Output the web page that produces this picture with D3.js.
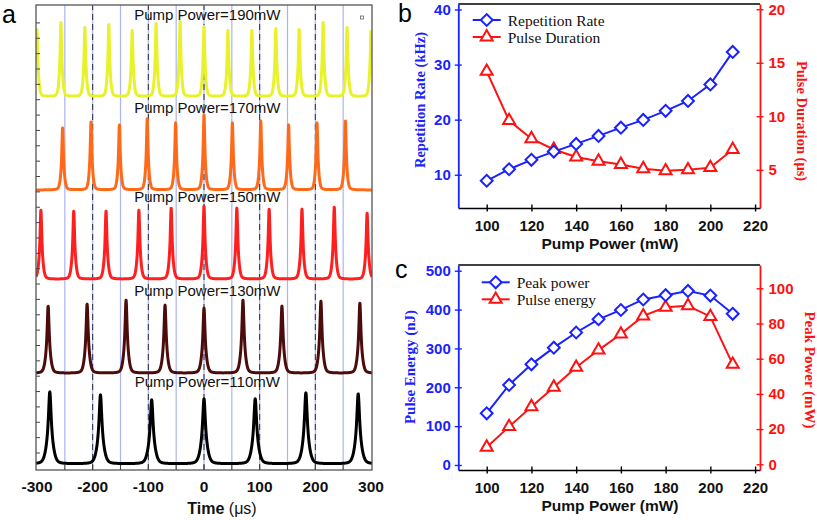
<!DOCTYPE html>
<html><head><meta charset="utf-8">
<script src="https://cdn.jsdelivr.net/npm/d3@7"></script>
<style>body{margin:0;background:#fff} svg{display:block}</style>
</head><body>
<svg id="chart" width="817" height="520"></svg>
<script>
// ---------- Panel a data (oscilloscope traces) ----------
const traceLabels = ["Pump Power=190mW","Pump Power=170mW","Pump Power=150mW","Pump Power=130mW","Pump Power=110mW"];
const tracePowers = [190,170,150,130,110];
const traceColors = ["#e8f22a","#ff6a1a","#ff1f1f","#4c0c0c","#000000"];
const traceBaselines = [373.3, 280, 190.7, 96.7, 6];   // offset of each trace (a.u.)
const peaks190 = [-300,-257,-214,-171,-129,-86,-43,0,43,86,129,171,214,257,300];
const amps190  = [67,74,69,72,66,73,75,70,66,66,68,67,74,69,65];
const peaks170 = [-254,-203,-152,-102,-51,0,51,102,152,203,254];
const amps170  = [62,68,65,71,67,75,67,69,65,67,69];
const peaks150 = [-293,-234,-176,-117,-59,0,59,117,176,234,293];
const amps150  = [69,68,68,69,71,73,71,70,70,72,66];
const peaks130 = [-280,-210,-140,-70,0,70,140,210,280];
const amps130  = [67,69,73,68,65,73,67,72,70];
const peaks110 = [-277,-186,-94,0,92,183,277];
const amps110  = [72,69,64,65,65,71,70];
const timeTicks = [-300,-200,-100,0,100,200,300];

// ---------- Panel b / c data ----------
const pumpPower = [100,110,120,130,140,150,160,170,180,190,200,210];
const repRate   = [8.9,11.0,12.7,14.2,15.6,17.05,18.55,19.95,21.6,23.4,26.4,32.3];
const pulseDur  = [14.2,9.6,7.9,6.9,6.2,5.8,5.5,5.1,4.9,5.0,5.2,6.9];
const cBlue     = [133,206,259,302,341,375,399,426,437,448,436,389];   // left axis (nJ)
const cRed      = [9.7,21.4,32.7,43.8,55.1,64.9,74.0,84.3,89.2,90.1,83.9,56.8]; // right axis (mW)
const pumpTicks = [100,120,140,160,180,200,220];
const bLeftTicks = [10,20,30,40];
const bRightTicks = [5,10,15,20];
const cLeftTicks = [0,100,200,300,400,500];
const cRightTicks = [0,20,40,60,80,100];

const BLUE = "#1a22ff", RED = "#ff1111";
const SANS = "'Liberation Sans', Arial, sans-serif";
const SERIF = "'Liberation Serif', 'Times New Roman', serif";

const svg = d3.select("#chart");

// =================== Panel a ===================
const xA = d3.scaleLinear().domain([-301.8, 301.8]).range([36, 372]);
const yA = d3.scaleLinear().domain([0, 465]).range([470, 5]);
const gA = svg.append("g");
gA.append("clipPath").attr("id","clipA").append("rect")
  .attr("x", xA.range()[0]).attr("y", yA.range()[1])
  .attr("width", xA.range()[1]-xA.range()[0]).attr("height", yA.range()[0]-yA.range()[1]);

// light blue grid every 50
gA.selectAll("line.gb").data(d3.range(-250, 251, 50)).join("line")
  .attr("x1", d=>xA(d)).attr("x2", d=>xA(d)).attr("y1", yA.range()[0]).attr("y2", yA.range()[1])
  .attr("stroke", "#aab4f2").attr("stroke-width", 1.2);
// dashed lines every 100
gA.selectAll("line.gd").data([-200,-100,0,100,200]).join("line")
  .attr("x1", d=>xA(d)).attr("x2", d=>xA(d)).attr("y1", yA.range()[0]).attr("y2", yA.range()[1])
  .attr("stroke", "#2c2c3c").attr("stroke-width", 1).attr("stroke-dasharray", "6,4");

const peakSets = [[peaks190,amps190],[peaks170,amps170],[peaks150,amps150],[peaks130,amps130],[peaks110,amps110]];
const tSamples = d3.range(-301.8, 301.9, 0.12);
const lineA = d3.line().x(d=>xA(d[0])).y(d=>yA(d[1]));
const gTr = gA.append("g").attr("clip-path","url(#clipA)");
peakSets.forEach(([pk, am], i) => {
  const dur = pulseDur[pumpPower.indexOf(tracePowers[i])];
  const hw = dur * 0.3;
  const pts = tSamples.map(t => {
    let v = traceBaselines[i];
    pk.forEach((p, k) => { const u = (t - p) / hw; v += am[k] * (0.75 / (1 + u*u) + 0.25 * Math.exp(-u*u/8)); });
    return [t, v];
  });
  gTr.append("path").attr("d", lineA(pts)).attr("fill","none")
    .attr("stroke", traceColors[i]).attr("stroke-width", 3).attr("stroke-linejoin","round");
});
// trace labels
gA.selectAll("text.tl").data(traceLabels).join("text")
  .attr("x", xA(6)).attr("y", (d,i)=>yA(traceBaselines[i]) - 77)
  .attr("text-anchor","middle").attr("font-family", SANS).attr("font-size", 15).attr("fill","#111")
  .text(d=>d);

// frame
gA.append("rect").attr("x", xA.range()[0]).attr("y", yA.range()[1])
  .attr("width", xA.range()[1]-xA.range()[0]).attr("height", yA.range()[0]-yA.range()[1])
  .attr("fill","none").attr("stroke","#555").attr("stroke-width",1.3);
// inner left ticks
gA.selectAll("line.yt").data(d3.range(17, 450, 15.36)).join("line")
  .attr("x1", xA.range()[0]).attr("x2", xA.range()[0]+4).attr("y1", d=>yA(d)).attr("y2", d=>yA(d))
  .attr("stroke","#444").attr("stroke-width",1);
// inner bottom ticks
gA.selectAll("line.xt").data(d3.range(-250, 251, 50)).join("line")
  .attr("x1", d=>xA(d)).attr("x2", d=>xA(d)).attr("y1", yA.range()[0]).attr("y2", yA.range()[0]-5)
  .attr("stroke","#444").attr("stroke-width",1);
// tiny square marker
gA.append("rect").attr("x", xA(284)-1.5).attr("y", yA(452.5)-1.5).attr("width",3).attr("height",3)
  .attr("fill","none").attr("stroke","#666").attr("stroke-width",0.8);
// x tick labels
gA.selectAll("text.xl").data(timeTicks).join("text")
  .attr("x", d=>xA(d)).attr("y", 491.5).attr("text-anchor","middle")
  .attr("font-family", SANS).attr("font-weight","bold").attr("font-size", 15.5).attr("fill","#111")
  .text(d=>d);
const tt = gA.append("text").attr("x", 222).attr("y", 514).attr("text-anchor","middle")
  .attr("font-family", SANS).attr("font-size", 16).attr("fill","#111");
tt.append("tspan").attr("font-weight","bold").text("Time ");
tt.append("tspan").text("(\u03bcs)");
svg.append("text").attr("x", 2).attr("y", 23).attr("font-family", SANS).attr("font-size", 25).text("a");

// =================== helper for b & c ===================
function panel(cfg) {
  const g = svg.append("g");
  const x = d3.scaleLinear().domain([87.3, 222.2]).range([458.3, 760]);
  const yL = d3.scaleLinear().domain(cfg.leftDomain).range([cfg.bottom, cfg.top]);
  const yR = d3.scaleLinear().domain(cfg.rightDomain).range([cfg.bottom, cfg.top]);
  g.append("line").attr("x1", x.range()[0]).attr("x2", x.range()[1]).attr("y1", cfg.top).attr("y2", cfg.top)
    .attr("stroke","#000").attr("stroke-width",1.6);
  const ax = g.append("g").attr("transform",`translate(0,${cfg.bottom})`)
    .call(d3.axisBottom(x).tickValues(pumpTicks).tickSizeInner(3.5).tickSizeOuter(0).tickPadding(9));
  ax.select(".domain").attr("stroke","#000").attr("stroke-width",1.6);
  ax.selectAll(".tick line").attr("y1",-3.5).attr("stroke","#000").attr("stroke-width",1.4);
  ax.selectAll(".tick text").attr("font-family",SANS).attr("font-weight","bold").attr("font-size",15).attr("fill","#111");
  const al = g.append("g").attr("transform",`translate(${x.range()[0]},0)`)
    .call(d3.axisLeft(yL).tickValues(cfg.leftTicks).tickSizeInner(3.5).tickSizeOuter(0).tickPadding(4));
  al.select(".domain").attr("stroke",BLUE).attr("stroke-width",1.8);
  al.selectAll(".tick line").attr("x1",3.5).attr("stroke",BLUE).attr("stroke-width",1.4);
  al.selectAll(".tick text").attr("font-family",SANS).attr("font-weight","bold").attr("font-size",15).attr("fill",BLUE);
  const ar = g.append("g").attr("transform",`translate(${x.range()[1]},0)`)
    .call(d3.axisRight(yR).tickValues(cfg.rightTicks).tickSizeInner(3.5).tickSizeOuter(0).tickPadding(5));
  ar.select(".domain").attr("stroke",RED).attr("stroke-width",1.8);
  ar.selectAll(".tick line").attr("x1",-3.5).attr("stroke",RED).attr("stroke-width",1.4);
  ar.selectAll(".tick text").attr("font-family",SANS).attr("font-weight","bold").attr("font-size",15).attr("fill",RED);
  g.append("text").attr("x", 610).attr("y", cfg.bottom + 41).attr("text-anchor","middle")
    .attr("font-family",SANS).attr("font-weight","bold").attr("font-size",15.5).attr("fill","#111").text("Pump Power (mW)");
  g.append("text").attr("transform",`translate(${cfg.leftTitleX},${cfg.leftTitleY}) rotate(-90)`)
    .attr("text-anchor","middle").attr("dominant-baseline","central")
    .attr("font-family",SERIF).attr("font-weight","bold").attr("font-size",cfg.titleSize).attr("fill",BLUE).text(cfg.leftTitle);
  g.append("text").attr("transform",`translate(${cfg.rightTitleX},${cfg.rightTitleY}) rotate(90)`)
    .attr("text-anchor","middle").attr("dominant-baseline","central")
    .attr("font-family",SERIF).attr("font-weight","bold").attr("font-size",cfg.titleSize).attr("fill",RED).text(cfg.rightTitle);
  const blueLine = d3.line().x((d,i)=>x(pumpPower[i])).y(d=>yL(d));
  const redLine = d3.line().x((d,i)=>x(pumpPower[i])).y(d=>yR(d));
  g.append("path").attr("d", redLine(cfg.red)).attr("fill","none").attr("stroke",RED).attr("stroke-width",2);
  g.append("path").attr("d", blueLine(cfg.blue)).attr("fill","none").attr("stroke",BLUE).attr("stroke-width",2);
  const tri = d3.symbol(d3.symbolTriangle, 62)();
  const dia = d3.symbol(d3.symbolSquare, 70)();
  g.selectAll("path.tri").data(cfg.red).join("path").attr("d", tri)
    .attr("transform",(d,i)=>`translate(${x(pumpPower[i])},${yR(d)})`)
    .attr("fill","#fff").attr("stroke",RED).attr("stroke-width",2);
  g.selectAll("path.dia").data(cfg.blue).join("path").attr("d", dia)
    .attr("transform",(d,i)=>`translate(${x(pumpPower[i])},${yL(d)}) rotate(45)`)
    .attr("fill","#fff").attr("stroke",BLUE).attr("stroke-width",2);
  const lx = cfg.legendX, ly = cfg.legendY;
  [[BLUE, dia, 45, cfg.legend[0]], [RED, tri, 0, cfg.legend[1]]].forEach(([c, s, r, t], i) => {
    const yy = ly + i*17;
    g.append("line").attr("x1", lx).attr("x2", lx+28).attr("y1", yy).attr("y2", yy).attr("stroke", c).attr("stroke-width",2);
    g.append("path").attr("d", s).attr("transform",`translate(${lx+14},${yy}) rotate(${r})`)
      .attr("fill","#fff").attr("stroke",c).attr("stroke-width",2);
    g.append("text").attr("x", lx+35).attr("y", yy+5.5).attr("font-family",SERIF).attr("font-size",15.5)
      .attr("fill","#111").text(t);
  });
  g.append("text").attr("x", cfg.letterX).attr("y", cfg.letterY).attr("font-family",SANS).attr("font-size",25).text(cfg.letter);
}

panel({
  top: 4, bottom: 208, leftDomain: [3.96, 41.0], rightDomain: [1.43, 20.49],
  leftTicks: bLeftTicks, rightTicks: bRightTicks, blue: repRate, red: pulseDur,
  leftTitle: "Repetition Rate (kHz)", rightTitle: "Pulse Duration (\u03bcs)", titleSize: 14.5,
  leftTitleX: 420, leftTitleY: 100, rightTitleX: 802, rightTitleY: 121,
  legend: ["Repetition Rate", "Pulse Duration"], legendX: 472.7, legendY: 20,
  letter: "b", letterX: 398, letterY: 22
});
panel({
  top: 265, bottom: 470, leftDomain: [-12.9, 514.7], rightDomain: [-3.24, 113.24],
  leftTicks: cLeftTicks, rightTicks: cRightTicks, blue: cBlue, red: cRed,
  leftTitle: "Pulse Energy (nJ)", rightTitle: "Peak Power (mW)", titleSize: 15,
  leftTitleX: 410, leftTitleY: 367, rightTitleX: 809.5, rightTitleY: 370,
  legend: ["Peak power", "Pulse energy"], legendX: 481.7, legendY: 282.3,
  letter: "c", letterX: 395, letterY: 278
});
</script>
</body></html>
